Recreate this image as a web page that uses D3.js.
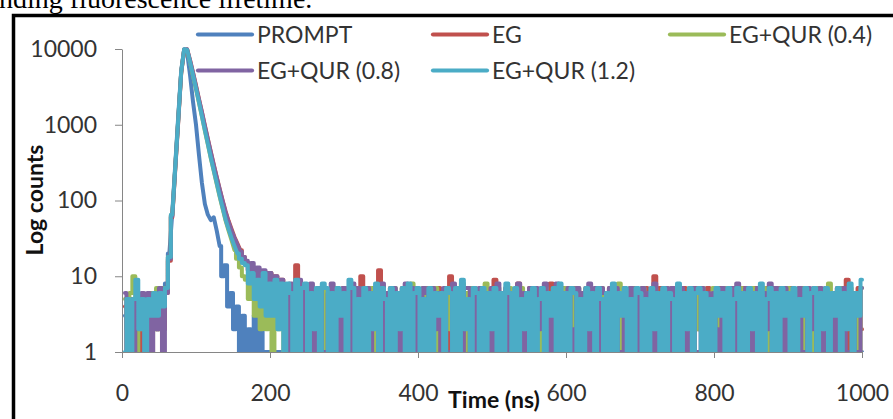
<!DOCTYPE html>
<html>
<head>
<meta charset="utf-8">
<script src="https://cdn.jsdelivr.net/npm/d3@7"></script>
<style>
  html, body { margin: 0; padding: 0; background: #fff; }
  svg { display: block; }
</style>
</head>
<body>
<svg id="chart" width="893" height="419"></svg>
<script>
// Decay curves sampled every 4 ns, first channel at 4 ns.
const timeStepNs = 4;

const seriesNames  = ["PROMPT", "EG", "EG+QUR (0.4)", "EG+QUR (0.8)", "EG+QUR (1.2)"];
const seriesColors = ["#4F81BD", "#C0504D", "#9BBB59", "#8064A2", "#4BACC6"];

const xTickValues = [0, 200, 400, 600, 800, 1000];
const yTickValues = [1, 10, 100, 1000, 10000];

// PROMPT (instrument response)
const prompt = [
  3,1,4,1,5,2,4,1,5,1,4,2,5,2,
  8,20,70,300,1300,5200,9900,9000,
  4500,2000,1000,400,170,90,65,55,60,40,25,10,14,4,6,2,4,1,3,1,
  2,1,3,1,2,1,1,1,1,1,1,1,
  1,1,1,1,1,1,1,1,1,1,1,1,1,1,
  1,1,1,1,1,1,1,1,1,1,1,1,1,1,
  1,1,1,1,1,1,1,1,1,1,1,1,1,1,
  1,1,1,1,1,1,1,1,1,1,1,1,1,1,
  1,1,1,1,1,1,1,1,1,1,1,1,1,1,
  1,1,1,1,1,1,1,1,1,1,1,1,1,1,
  1,1,1,1,1,1,1,1,1,1,1,1,1,1,
  1,1,1,1,1,1,1,1,1,1,1,1,1,1,
  1,1,1,1,1,1,1,1,1,1,1,1,1,1,
  1,1,1,1,1,1,1,1,1,1,1,1,1,1,
  1,1,1,1,1,1,1,1,1,1,1,1,1,1,
  1,1,1,1,1,1,1,1,1,1,1,1,1,1,
  1,1,1,1,1,1,1,1,1,1,1,1,1,1,
  1,1,1,1,1,1,1,1,1,1,1,1,1,1
];

// EG
const eg = [
  4,1,5,2,4,1,5,2,4,1,5,2,4,2,
  6,16,60,260,1100,4800,9700,9900,
  7100,4900,3300,2200,1480,980,650,440,300,205,142,100,72,54,42,33,27,22,18,15,
  12,10,9,12,7,10,5,11,4,10,3,9,
  6,1,7,1,14,1,6,2,7,1,6,1,7,2,
  6,1,7,1,6,2,7,1,6,1,7,1,10,1,
  6,2,7,1,12,1,6,1,7,2,6,1,7,1,
  6,1,7,2,6,1,7,1,6,2,7,1,6,1,
  10,1,6,2,7,1,6,1,7,2,6,1,7,1,
  6,9,1,6,2,7,1,6,1,8,1,6,2,7,
  1,6,1,7,2,6,8,1,6,1,7,2,6,1,
  7,1,6,2,7,1,6,1,7,1,6,2,7,1,
  6,1,7,2,6,1,7,1,6,2,7,1,6,10,
  1,7,2,6,1,7,1,6,2,7,1,6,1,7,
  2,6,1,7,1,6,2,7,1,6,1,7,2,6,
  1,7,1,6,2,7,1,6,1,7,2,6,1,7,
  1,6,2,7,1,6,1,7,2,6,1,7,1,6,
  2,7,1,6,1,7,2,6,9,1,6,1,7,2
];

// EG+QUR (0.4)
const egQur04 = [
  5,2,6,10,1,5,2,5,1,6,2,7,2,7,
  7,18,64,275,1180,4950,9800,9700,
  6600,4400,2950,1950,1280,830,550,360,245,165,112,78,54,40,30,22,17,13,10,9,
  5,9,3,10,2,9,2,8,1,9,2,8,
  1,7,1,6,2,7,1,6,1,7,2,6,1,7,
  1,6,2,7,1,6,1,7,2,6,1,7,1,6,
  2,7,1,6,1,7,2,6,1,7,1,6,2,7,
  1,8,2,6,1,7,1,6,2,7,1,6,1,7,
  2,6,1,7,8,6,1,7,2,6,1,7,8,1,
  6,2,7,1,6,1,7,2,6,1,7,1,6,2,
  7,1,6,1,7,2,6,1,7,1,6,7,1,6,
  2,7,1,6,1,7,2,6,1,7,1,6,2,7,
  1,8,1,6,2,7,1,6,1,7,2,6,1,7,
  1,6,2,7,1,6,1,7,2,6,1,7,1,6,
  2,7,1,6,1,7,2,6,1,7,1,6,2,7,
  7,1,6,1,7,2,6,1,7,1,6,2,7,1,
  6,1,7,2,6,1,7,1,7,2,6,1,7,1,
  6,2,8,1,6,1,7,2,6,7,1,6,1,7
];

// EG+QUR (0.8)
const egQur08 = [
  6,2,4,1,5,3,6,1,6,1,5,2,7,1,
  6,17,62,270,1150,4900,9800,9900,
  7000,4800,3200,2150,1450,950,640,430,290,200,140,98,70,52,40,32,26,21,18,16,
  12,15,8,13,6,12,5,11,4,10,3,9,
  7,1,8,6,1,9,1,7,2,8,1,6,7,1,
  1,6,8,1,6,1,7,6,1,8,2,7,1,6,
  7,1,6,7,1,8,1,6,2,7,1,6,1,8,
  1,7,1,6,1,7,6,1,7,2,6,1,7,1,
  1,8,1,6,1,7,7,1,6,1,7,2,6,1,
  7,1,8,1,6,7,1,6,2,8,1,6,1,7,
  1,7,2,6,8,1,6,1,8,1,6,1,7,1,
  2,7,1,6,1,8,1,7,1,7,6,1,7,1,
  7,1,1,6,2,7,1,6,1,7,2,6,1,8,
  1,6,2,7,1,7,1,6,7,1,6,1,7,1,
  1,7,2,6,1,6,2,1,7,1,6,7,1,8,
  6,1,7,1,6,1,7,1,6,2,8,1,7,1,
  1,7,1,1,6,2,7,1,1,7,2,6,1,7,
  1,6,1,1,6,1,1,7,1,1,6,1,1,7
];

// EG+QUR (1.2)
const egQur12 = [
  1,5,1,5,9,2,5,1,5,3,6,3,6,4,
  7,18,65,280,1200,5000,9900,9800,
  6700,4500,3000,2000,1300,850,560,370,250,170,115,80,56,42,32,25,20,17,15,14,
  8,11,5,9,4,11,3,8,3,9,2,8,
  1,8,6,1,9,1,7,8,1,6,2,7,1,8,
  7,1,6,1,7,3,6,1,9,7,1,5,1,7,
  1,6,2,8,1,7,5,1,7,1,6,2,7,1,
  8,1,6,7,1,5,1,7,1,6,3,6,1,7,
  6,1,7,1,9,2,5,1,7,6,1,7,1,6,
  2,7,1,6,1,8,6,1,7,1,5,2,6,1,
  7,1,5,7,1,6,3,7,1,8,1,6,1,7,
  6,1,5,1,7,2,6,1,7,5,1,6,1,8,
  1,6,3,7,1,5,1,7,6,1,5,1,7,2,
  6,1,7,1,6,5,1,8,1,6,2,7,1,6,
  7,1,6,1,5,1,7,3,6,1,7,1,5,7,
  1,6,1,7,2,6,1,8,1,5,7,1,6,1,
  7,3,6,1,7,1,5,3,7,1,6,7,1,6,
  2,7,1,6,3,7,1,6,2,8,1,6,3,9
];

const seriesValues = [prompt, eg, egQur04, egQur08, egQur12];

const svg = d3.select("#chart");
const plot = { left: 122, right: 862, top: 49, bottom: 352 };

const x = d3.scaleLinear().domain([0, 1000]).range([plot.left, plot.right]);
const y = d3.scaleLog().domain([1, 10000]).range([plot.bottom, plot.top]);

// Caption line running above the figure frame
svg.append("text")
  .attr("x", -1).attr("y", 8)
  .attr("font-family", "'Liberation Serif', 'Times New Roman', serif")
  .attr("font-size", 28)
  .attr("fill", "#000")
  .text("nding fluorescence lifetime.");

// Figure frame
svg.append("rect")
  .attr("x", 13.5).attr("y", 15.5)
  .attr("width", 900).attr("height", 430)
  .attr("fill", "none")
  .attr("stroke", "#000")
  .attr("stroke-width", 3.5);

// Clip for the decay curves
svg.append("defs").append("clipPath").attr("id", "plotClip")
  .append("rect")
  .attr("x", plot.left).attr("y", plot.top - 8)
  .attr("width", plot.right - plot.left + 2)
  .attr("height", plot.bottom - plot.top + 8);

// Trace of one decay: the high-count part of the curve is joined point to
// point, while low-count channels are held across their own width so the
// noise floor reads as a dense band.
const stepBelow = 20;
function tracePath(vals) {
  const p = d3.path();
  vals.forEach((v, i) => {
    const xi = x(timeStepNs * (i + 1)), yi = y(v);
    if (i === 0) { p.moveTo(xi, yi); return; }
    const prev = vals[i - 1];
    if (prev >= stepBelow && v >= stepBelow) {
      p.lineTo(xi, yi);
    } else {
      const xPrev = x(timeStepNs * i);
      const xm = (xPrev + xi) / 2;
      p.lineTo(xm, y(prev));
      p.lineTo(xm, yi);
      p.lineTo(xi, yi);
    }
  });
  return p.toString();
}

const curves = svg.append("g").attr("clip-path", "url(#plotClip)");
seriesValues.forEach((vals, k) => {
  curves.append("path")
    .attr("d", tracePath(vals))
    .attr("fill", "none")
    .attr("stroke", seriesColors[k])
    .attr("stroke-width", 4)
    .attr("stroke-linejoin", "round")
    .attr("stroke-linecap", "round");
});

const labelFont = "Lato, 'Open Sans', sans-serif";
const axisColor = "#868686";

// Y axis (log counts)
const yAxis = svg.append("g")
  .attr("transform", `translate(${plot.left},0)`)
  .call(d3.axisLeft(y).tickValues(yTickValues).tickFormat(d3.format("d"))
    .tickSize(7).tickSizeOuter(0).tickPadding(18));
yAxis.select(".domain").attr("stroke", axisColor);
yAxis.selectAll(".tick line").attr("stroke", axisColor);
yAxis.selectAll(".tick text")
  .attr("font-family", labelFont).attr("font-size", 23).attr("fill", "#333");

// X axis (time)
const xAxis = svg.append("g")
  .attr("transform", `translate(0,${plot.bottom})`)
  .call(d3.axisBottom(x).tickValues(xTickValues).tickFormat(d3.format("d"))
    .tickSize(6).tickSizeOuter(0));
xAxis.select(".domain").attr("stroke", axisColor);
xAxis.selectAll(".tick line").attr("stroke", axisColor);
xAxis.selectAll(".tick text")
  .attr("font-family", labelFont).attr("font-size", 23).attr("fill", "#333")
  .attr("y", 49).attr("dy", 0);

// Axis titles
svg.append("text")
  .attr("transform", `translate(43,200) rotate(-90)`)
  .attr("text-anchor", "middle")
  .attr("font-family", labelFont).attr("font-weight", "bold")
  .attr("font-size", 23).attr("fill", "#111")
  .text("Log counts");

svg.append("text")
  .attr("x", 494).attr("y", 408)
  .attr("text-anchor", "middle")
  .attr("font-family", labelFont).attr("font-weight", "bold")
  .attr("font-size", 23).attr("fill", "#111")
  .text("Time (ns)");

// Legend, two rows across the top of the plot
const legendCols = [198, 433, 670];
const legendRows = [35, 71];
const legendSlots = [[0, 0], [1, 0], [2, 0], [0, 1], [1, 1]];
const legend = svg.append("g");
seriesNames.forEach((name, k) => {
  const [c, r] = legendSlots[k];
  const lx = legendCols[c], ly = legendRows[r];
  legend.append("line")
    .attr("x1", lx).attr("x2", lx + 54)
    .attr("y1", ly - 0.5).attr("y2", ly - 0.5)
    .attr("stroke", seriesColors[k]).attr("stroke-width", 4.2)
    .attr("stroke-linecap", "round");
  legend.append("text")
    .attr("x", lx + 59).attr("y", ly).attr("dy", "0.35em")
    .attr("font-family", labelFont).attr("font-size", 23).attr("fill", "#333")
    .text(name);
});
</script>
</body>
</html>
